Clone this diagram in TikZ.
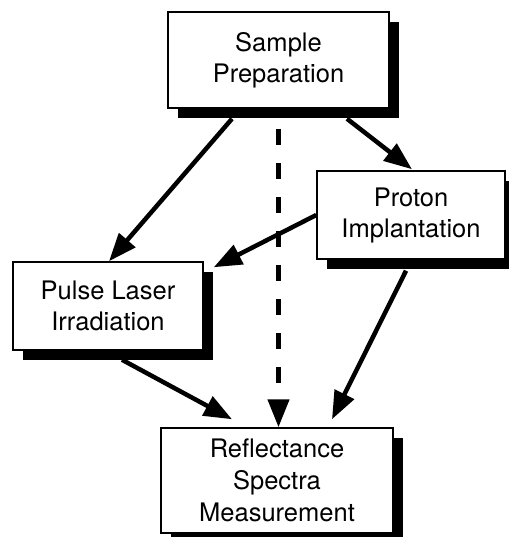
\documentclass[tikz,border=0pt]{standalone}
\usepackage{fontspec}
\setmainfont{TeX Gyre Heros}
\usetikzlibrary{arrows.meta,shadows,calc}
\begin{document}
\begin{tikzpicture}[x=1pt,y=-1pt,
  stepbox/.style={draw=black, line width=1.5pt, fill=white, align=center,
    inner sep=0pt, font=\fontsize{25.5}{31}\selectfont,
    drop shadow={shadow xshift=10pt, shadow yshift=-10pt, fill=black, opacity=1}},
  conn/.style={line width=4.5pt, -{Triangle[length=28pt,width=21pt]}},
  dashconn/.style={conn, dash pattern=on 16pt off 18pt}]
\useasboundingbox[fill=white] (0,0) rectangle (508,537);
\node[stepbox, minimum width=221pt, minimum height=96pt] (sp) at (278.5,60) {Sample\\Preparation};
\node[stepbox, minimum width=188pt, minimum height=88pt] (pi) at (411,215) {Proton\\Implantation};
\node[stepbox, minimum width=190pt, minimum height=88pt] (pl) at (108,306) {Pulse Laser\\Irradiation};
\node[stepbox, minimum width=232pt, minimum height=105pt, font=\fontsize{25.5}{32}\selectfont] (rs) at (277,480.5) {Reflectance\\Spectra\\Measurement};
\draw[conn] ($(sp.south)+(-46.5,10)$) -- ($(pl.north)+(1,0)$);
\draw[conn] ($(sp.south)+(68.5,10)$) -- ($(pi.north)+(1,-1)$);
\draw[dashconn] ($(sp.south)+(0,20)$) -- (sp.south |- rs.north);
\draw[conn] (pi.west) -- ($(pl.north east)+(10,6)$);
\draw[conn] ($(pi.south)+(-5,11)$) -- ($(rs.north)+(55,-8)$);
\draw[conn] ($(pl.south)+(14,9)$) -- ($(rs.north)+(-45,-8)$);
\end{tikzpicture}
\end{document}
